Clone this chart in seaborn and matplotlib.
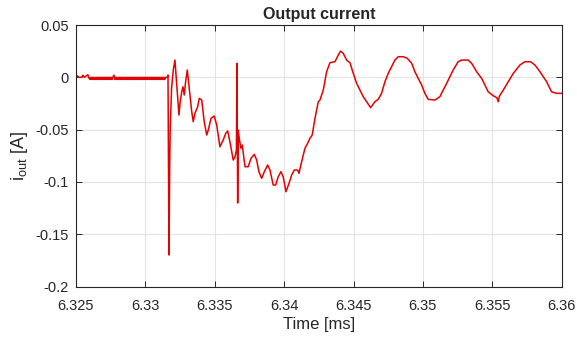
import numpy as np
import pandas as pd
import matplotlib
matplotlib.use("Agg")
import matplotlib.pyplot as plt
import seaborn as sns

# ---- data (time in ms, current in A) ----
flat_t = [6.32500, 6.32510, 6.32520, 6.32540, 6.32550, 6.32560, 6.32586, 6.32590,
          6.32600, 6.32605, 6.32610, 6.32615, 6.32620, 6.32625, 6.32630, 6.32635,
          6.32640, 6.32645, 6.32650, 6.32655, 6.32660, 6.32665, 6.32670, 6.32675,
          6.32680, 6.32685, 6.32690, 6.32695, 6.32700, 6.32705, 6.32710, 6.32715,
          6.32720, 6.32725, 6.32730, 6.32735, 6.32740, 6.32745, 6.32750, 6.32755,
          6.32760, 6.32765, 6.32774, 6.32780, 6.32785, 6.32790, 6.32795, 6.32800,
          6.32805, 6.32810, 6.32815, 6.32820, 6.32825, 6.32830, 6.32835, 6.32840,
          6.32845, 6.32850, 6.32855, 6.32860, 6.32865, 6.32870, 6.32875, 6.32880,
          6.32885, 6.32890, 6.32895, 6.32900, 6.32905, 6.32910, 6.32915, 6.32920,
          6.32925, 6.32930, 6.32935, 6.32940, 6.32945, 6.32950, 6.32955, 6.32960,
          6.32965, 6.32970, 6.32975, 6.32980, 6.32985, 6.32990, 6.32995, 6.33000,
          6.33005, 6.33010, 6.33015, 6.33020, 6.33025, 6.33030, 6.33035, 6.33040,
          6.33045, 6.33050, 6.33055, 6.33060, 6.33065, 6.33070, 6.33075, 6.33080,
          6.33085, 6.33090, 6.33095, 6.33100, 6.33105, 6.33110, 6.33115, 6.33120,
          6.33125, 6.33130, 6.33135, 6.33140, 6.33145, 6.33150]
flat_i = [0.0, 0.0015, 0.0, 0.0, 0.002, 0.0, 0.0025, 0.0,
          -0.002, 0.0, -0.002, 0.0, -0.002, 0.0, -0.002, 0.0,
          -0.002, 0.0, -0.002, 0.0, -0.002, 0.0, -0.002, 0.0,
          -0.002, 0.0, -0.002, 0.0, -0.002, 0.0, -0.002, 0.0,
          -0.002, 0.0, -0.002, 0.0, -0.002, 0.0, -0.002, 0.0,
          -0.002, 0.0, 0.002, -0.002, 0.0, -0.002, 0.0, -0.002,
          0.0, -0.002, 0.0, -0.002, 0.0, -0.002, 0.0, -0.002,
          0.0, -0.002, 0.0, -0.002, 0.0, -0.002, 0.0, -0.002,
          0.0, -0.002, 0.0, -0.002, 0.0, -0.002, 0.0, -0.002,
          0.0, -0.002, 0.0, -0.002, 0.0, -0.002, 0.0, -0.002,
          0.0, -0.002, 0.0, -0.002, 0.0, -0.002, 0.0, -0.002,
          0.0, -0.002, 0.0, -0.002, 0.0, -0.002, 0.0, -0.002,
          0.0, -0.002, 0.0, -0.002, 0.0, -0.002, 0.0, -0.002,
          0.0, -0.002, 0.0, -0.002, 0.0, -0.002, 0.0, -0.002,
          0.0, -0.002, 0.0, -0.002, 0.0, 0.0]

trans_t = [6.33158, 6.33163, 6.33170, 6.33175, 6.33179, 6.33189, 6.33201, 6.33213,
           6.33226, 6.33242, 6.33251, 6.33262, 6.33271, 6.33280, 6.33290, 6.33302,
           6.33316, 6.33334, 6.33345, 6.33357, 6.33377, 6.33388, 6.33406, 6.33424,
           6.33442, 6.33453, 6.33473, 6.33496, 6.33514, 6.33537, 6.33561, 6.33579,
           6.33593, 6.33609, 6.33633, 6.33646, 6.33656, 6.33660, 6.33665, 6.33669,
           6.33678, 6.33689, 6.33698, 6.33718, 6.33741, 6.33761, 6.33785, 6.33802,
           6.33818, 6.33838, 6.33857, 6.33881, 6.33898, 6.33921, 6.33939, 6.33957,
           6.33977, 6.33993, 6.34013, 6.34035, 6.34054, 6.34073, 6.34097, 6.34107,
           6.34126, 6.34150, 6.34169, 6.34186, 6.34202, 6.34222, 6.34246, 6.34258]
trans_i = [0.0, 0.0022, -0.1698, -0.0870, -0.0484, -0.0102, 0.0070, 0.0165,
           -0.0074, -0.0360, -0.0233, -0.0138, -0.0090, -0.0169, -0.0042, 0.0070,
           -0.0105, -0.0329, -0.0424, -0.0344, -0.0281, -0.0201, -0.0217, -0.0424,
           -0.0551, -0.0504, -0.0392, -0.0370, -0.0456, -0.0663, -0.0599, -0.0535,
           -0.0513, -0.0615, -0.0790, -0.0759, -0.0695, 0.0134, -0.1201, -0.0504,
           -0.0599, -0.0678, -0.0647, -0.0854, -0.0854, -0.0774, -0.0736, -0.0790,
           -0.0902, -0.0965, -0.0902, -0.0838, -0.0886, -0.1029, -0.1029, -0.0950,
           -0.0902, -0.0950, -0.1093, -0.1013, -0.0934, -0.0886, -0.0886, -0.0917,
           -0.0806, -0.0678, -0.0631, -0.0583, -0.0551, -0.0392, -0.0233, -0.0217]

osc_t = [6.34282, 6.34306, 6.34330, 6.34366, 6.34390, 6.34407, 6.34426, 6.34450,
         6.34474, 6.34498, 6.34522, 6.34546, 6.34570, 6.34594, 6.34623, 6.34654,
         6.34678, 6.34702, 6.34726, 6.34750, 6.34774, 6.34798, 6.34822, 6.34858,
         6.34887, 6.34919, 6.34942, 6.34966, 6.34991, 6.35014, 6.35038, 6.35087,
         6.35122, 6.35171, 6.35218, 6.35254, 6.35279, 6.35326, 6.35351, 6.35387,
         6.35423, 6.35447, 6.35470, 6.35507, 6.35533, 6.35543, 6.35551, 6.35579,
         6.35615, 6.35651, 6.35699, 6.35735, 6.35776, 6.35807, 6.35843, 6.35891,
         6.35927, 6.35963, 6.36000]
osc_i = [-0.0121, 0.0054, 0.0140, 0.0149, 0.0213, 0.0251, 0.0229, 0.0165,
         0.0140, 0.0038, -0.0057, -0.0121, -0.0185, -0.0233, -0.0290, -0.0233,
         -0.0210, -0.0153, -0.0042, 0.0038, 0.0101, 0.0165, 0.0197, 0.0197,
         0.0182, 0.0134, 0.0054, -0.0010, -0.0074, -0.0153, -0.0210, -0.0217,
         -0.0185, -0.0057, 0.0070, 0.0149, 0.0165, 0.0165, 0.0134, 0.0054,
         -0.0010, -0.0074, -0.0138, -0.0176, -0.0195, -0.0233, -0.0179, -0.0121,
         -0.0042, 0.0038, 0.0118, 0.0149, 0.0149, 0.0118, 0.0054, -0.0042,
         -0.0138, -0.0153, -0.0153]

x_ticks = [6.325, 6.33, 6.335, 6.34, 6.345, 6.35, 6.355, 6.36]
x_tick_labels = ["6.325", "6.33", "6.335", "6.34", "6.345", "6.35", "6.355", "6.36"]
y_ticks = [-0.2, -0.15, -0.1, -0.05, 0, 0.05]
y_tick_labels = ["-0.2", "-0.15", "-0.1", "-0.05", "0", "0.05"]

df = pd.DataFrame({
    "t": flat_t + trans_t + osc_t,
    "i": flat_i + trans_i + osc_i,
})

sns.set_theme(style="whitegrid")
plt.rcParams["font.family"] = ["Liberation Sans", "DejaVu Sans"]
plt.rcParams["mathtext.default"] = "regular"

fig = plt.figure(figsize=(5.77, 3.38), dpi=100)
ax = fig.add_axes([0.1317, 0.152, 0.8418, 0.774])
sns.lineplot(data=df, x="t", y="i", ax=ax, sort=False, estimator=None,
             color="#e60000", linewidth=1.1)

ax.set_xlim(6.325, 6.36)
ax.set_ylim(-0.2, 0.05)
ax.set_xticks(x_ticks)
ax.set_xticklabels(x_tick_labels)
ax.set_yticks(y_ticks)
ax.set_yticklabels(y_tick_labels)
ax.grid(True, color="#e3e3e3", linewidth=0.8)
ax.set_facecolor("white")
for s in ax.spines.values():
    s.set_color("#262626")
    s.set_linewidth(0.8)
ax.tick_params(direction="in", length=4, width=0.7, colors="#262626",
               labelcolor="#262626", labelsize=10.5, top=True, right=True,
               bottom=True, left=True)
ax.tick_params(axis="x", pad=9)
ax.tick_params(axis="y", pad=5)
ax.set_xlabel("Time [ms]", fontsize=12, color="#262626", labelpad=3)
ax.set_ylabel("i$_{out}$ [A]", fontsize=13, color="#262626", labelpad=4)
ax.set_title("Output current", fontsize=11.5, fontweight="bold", pad=4)

fig.savefig("out.png", dpi=100)
